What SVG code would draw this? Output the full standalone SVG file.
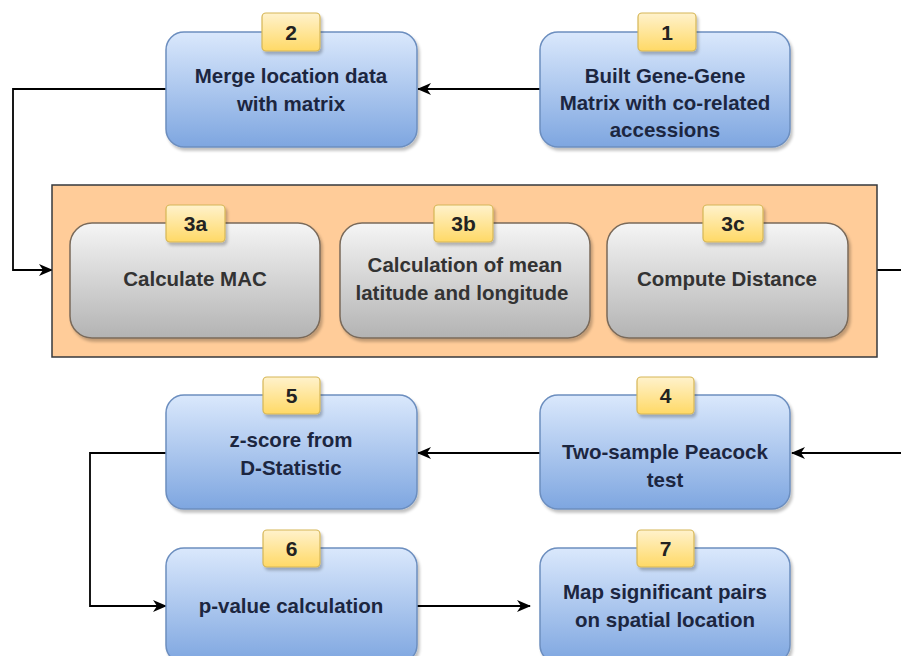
<svg xmlns="http://www.w3.org/2000/svg" width="901" height="656" viewBox="0 0 901 656">
  <defs>
    <linearGradient id="blueFill" x1="0" y1="0" x2="0" y2="1">
      <stop offset="0" stop-color="#dae8fc"/>
      <stop offset="1" stop-color="#7ea6e0"/>
    </linearGradient>
    <linearGradient id="grayFill" x1="0" y1="0" x2="0" y2="1">
      <stop offset="0" stop-color="#f5f5f5"/>
      <stop offset="1" stop-color="#b3b3b3"/>
    </linearGradient>
    <linearGradient id="badgeFill" x1="0" y1="0" x2="0" y2="1">
      <stop offset="0" stop-color="#fff2cc"/>
      <stop offset="1" stop-color="#ffd966"/>
    </linearGradient>
    <filter id="shadow" x="-10%" y="-10%" width="125%" height="130%">
      <feGaussianBlur in="SourceAlpha" stdDeviation="1.5"/>
      <feOffset dx="2" dy="3" result="off"/>
      <feComponentTransfer><feFuncA type="linear" slope="0.25"/></feComponentTransfer>
      <feMerge><feMergeNode/><feMergeNode in="SourceGraphic"/></feMerge>
    </filter>
    <marker id="arrow" viewBox="0 0 14 12" refX="13" refY="6" markerWidth="14" markerHeight="12" markerUnits="userSpaceOnUse" orient="auto">
      <path d="M0,0 L14,6 L0,12 L4,6 Z" fill="#000"/>
    </marker>
  </defs>
  <style>
    .blue { fill: url(#blueFill); stroke: #6c8ebf; stroke-width: 1.5; filter: url(#shadow); }
    .gray { fill: url(#grayFill); stroke: #7a6a5a; stroke-width: 1.5; filter: url(#shadow); }
    .badge { fill: url(#badgeFill); stroke: #d6b656; stroke-width: 1.2; filter: url(#shadow); }
    .group { fill: #ffcc99; stroke: #36393d; stroke-width: 1.5; }
    .lbl { font-family: "Liberation Sans", Arial, sans-serif; font-size: 20.5px; font-weight: bold; fill: #1c2640; text-anchor: middle; }
    .glbl { font-family: "Liberation Sans", Arial, sans-serif; font-size: 20.5px; font-weight: bold; fill: #333333; text-anchor: middle; }
    .num { font-family: "Liberation Sans", Arial, sans-serif; font-size: 21px; font-weight: bold; fill: #222222; text-anchor: middle; }
    .wire { fill: none; stroke: #000; stroke-width: 1.8; }
  </style>
  <rect width="901" height="656" fill="#ffffff"/>

  <!-- connectors -->
  <g id="connectors">
    <path class="wire" d="M540,89 H418" marker-end="url(#arrow)"/>
    <path class="wire" d="M166,89 H13 V270 H52" marker-end="url(#arrow)"/>
    <path class="wire" d="M877,270 H920 V453 H792" marker-end="url(#arrow)"/>
    <path class="wire" d="M540,453 H418" marker-end="url(#arrow)"/>
    <path class="wire" d="M166,453 H90 V606 H166" marker-end="url(#arrow)"/>
    <path class="wire" d="M417,606 H530" marker-end="url(#arrow)"/>
  </g>

  <!-- step 1 -->
  <g id="step1">
    <rect class="blue" x="540" y="32" width="250" height="115" rx="18"/>
    <rect class="badge" x="638" y="13" width="58" height="38" rx="4"/>
    <text class="num" x="667" y="40">1</text>
    <text class="lbl" x="665" y="83">Built Gene-Gene</text>
    <text class="lbl" x="665" y="110">Matrix with co-related</text>
    <text class="lbl" x="665" y="137">accessions</text>
  </g>

  <!-- step 2 -->
  <g id="step2">
    <rect class="blue" x="166" y="32" width="251" height="115" rx="18"/>
    <rect class="badge" x="262" y="13" width="58" height="38" rx="4"/>
    <text class="num" x="291" y="40">2</text>
    <text class="lbl" x="291" y="83">Merge location data</text>
    <text class="lbl" x="291" y="111">with matrix</text>
  </g>

  <!-- step 3 group -->
  <g id="step3">
    <rect class="group" x="52" y="185" width="825" height="172"/>
  </g>

  <g id="step3a">
    <rect class="gray" x="70" y="223" width="250" height="115" rx="22"/>
    <rect class="badge" x="166" y="205" width="59" height="37" rx="4"/>
    <text class="num" x="195.5" y="231">3a</text>
    <text class="glbl" x="195" y="286">Calculate MAC</text>
  </g>

  <g id="step3b">
    <rect class="gray" x="340" y="223" width="250" height="115" rx="22"/>
    <rect class="badge" x="434" y="205" width="59" height="37" rx="4"/>
    <text class="num" x="463.5" y="231">3b</text>
    <text class="glbl" x="465" y="272">Calculation of mean</text>
    <text class="glbl" x="462" y="300">latitude and longitude</text>
  </g>

  <g id="step3c">
    <rect class="gray" x="607" y="223" width="241" height="115" rx="22"/>
    <rect class="badge" x="703" y="205" width="60" height="37" rx="4"/>
    <text class="num" x="733" y="231">3c</text>
    <text class="glbl" x="727" y="286">Compute Distance</text>
  </g>

  <!-- step 4 -->
  <g id="step4">
    <rect class="blue" x="540" y="395" width="250" height="114" rx="18"/>
    <rect class="badge" x="637" y="377" width="57" height="37" rx="4"/>
    <text class="num" x="665.5" y="403">4</text>
    <text class="lbl" x="665" y="459">Two-sample Peacock</text>
    <text class="lbl" x="665" y="487">test</text>
  </g>

  <!-- step 5 -->
  <g id="step5">
    <rect class="blue" x="166" y="395" width="251" height="114" rx="18"/>
    <rect class="badge" x="263" y="377" width="57" height="37" rx="4"/>
    <text class="num" x="291.5" y="403">5</text>
    <text class="lbl" x="291" y="447">z-score from</text>
    <text class="lbl" x="291" y="475">D-Statistic</text>
  </g>

  <!-- step 6 -->
  <g id="step6">
    <rect class="blue" x="166" y="548" width="251" height="115" rx="18"/>
    <rect class="badge" x="263" y="530" width="57" height="37" rx="4"/>
    <text class="num" x="291.5" y="556">6</text>
    <text class="lbl" x="291" y="613">p-value calculation</text>
  </g>

  <!-- step 7 -->
  <g id="step7">
    <rect class="blue" x="540" y="548" width="250" height="115" rx="18"/>
    <rect class="badge" x="637" y="530" width="57" height="37" rx="4"/>
    <text class="num" x="665.5" y="556">7</text>
    <text class="lbl" x="665" y="599">Map significant pairs</text>
    <text class="lbl" x="665" y="627">on spatial location</text>
  </g>
</svg>
